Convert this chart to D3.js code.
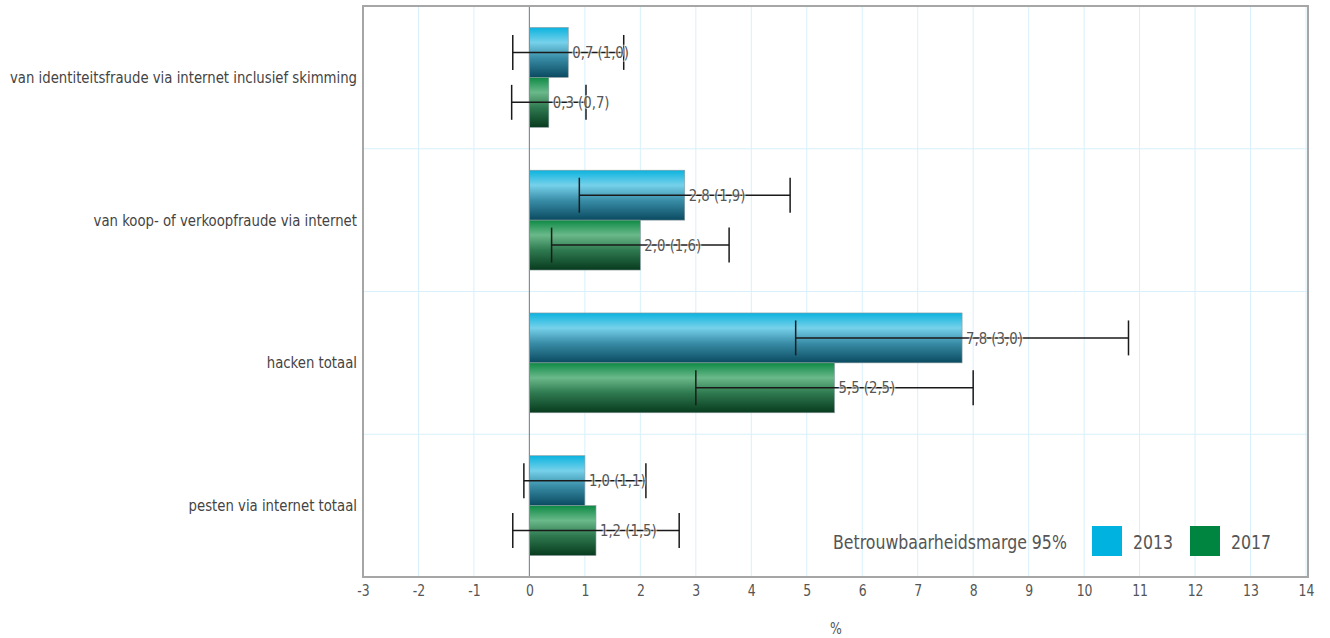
<!DOCTYPE html>
<html><head><meta charset="utf-8">
<script src="https://cdn.jsdelivr.net/npm/d3@7"></script>
<style>
body{margin:0;background:#fff;}
text{font-family:"DejaVu Sans Condensed","Liberation Sans Narrow","Open Sans",sans-serif;}
</style></head>
<body><svg id="c" width="1330" height="638"></svg>
<script>
const categories = ["van identiteitsfraude via internet inclusief skimming","van koop- of verkoopfraude via internet","hacken totaal","pesten via internet totaal"];
const series = ["2013","2017"];
const values2013 = [0.7, 2.8, 7.8, 1.0];
const values2017 = [0.35, 2.0, 5.5, 1.2];
const margins2013 = [1.0, 1.9, 3.0, 1.1];
const margins2017 = [0.67, 1.6, 2.5, 1.5];
const xTicks = d3.range(-3, 15, 1);
const legendTitle = "Betrouwbaarheidsmarge 95%";
const axisTitle = "%";

const svg = d3.select("#c");
const L = 363, R = 1306, T = 6, B = 577;
const x = d3.scaleLinear().domain([-3, 14]).range([L, R]);
const y = d3.scaleBand().domain(categories).range([T, B]).paddingInner(0).paddingOuter(0);
const yi = d3.scaleBand().domain(series).range([0, y.bandwidth()]).paddingInner(0).paddingOuter(0.43);

const defs = svg.append("defs");
function grad(id, stops){
  const g = defs.append("linearGradient").attr("id", id).attr("x1",0).attr("y1",0).attr("x2",0).attr("y2",1);
  stops.forEach(s => g.append("stop").attr("offset", s[0]).attr("stop-color", s[1]));
}
grad("g2013", [[0,"#0bb3df"],[0.3,"#76d1ea"],[0.6,"#3a8ea8"],[1,"#0a4a60"]]);
grad("g2017", [[0,"#0e8a45"],[0.3,"#6ab98a"],[0.6,"#2f7a50"],[1,"#073b1e"]]);

svg.append("g").selectAll("line").data(xTicks).join("line")
  .attr("x1", d=>x(d)).attr("x2", d=>x(d)).attr("y1", T).attr("y2", B)
  .attr("stroke", "#d8f0fa").attr("stroke-width", 1);
svg.append("g").selectAll("line").data(categories.slice(1)).join("line")
  .attr("x1", L).attr("x2", R+2).attr("y1", d=>y(d)).attr("y2", d=>y(d))
  .attr("stroke", "#d8f0fa").attr("stroke-width", 1);

const data = [];
categories.forEach((c,i)=>{
  data.push({c, s:"2013", v:values2013[i], m:margins2013[i]});
  data.push({c, s:"2017", v:values2017[i], m:margins2017[i]});
});

svg.append("g").selectAll("rect").data(data).join("rect")
  .attr("x", d=>x(Math.min(0,d.v))).attr("width", d=>Math.abs(x(d.v)-x(0)))
  .attr("y", d=>y(d.c)+yi(d.s)).attr("height", yi.bandwidth())
  .attr("fill", d=>"url(#g"+d.s+")").attr("stroke", "#8a9a9f").attr("stroke-width", 0.6);

svg.append("line").attr("x1", x(0)).attr("x2", x(0)).attr("y1", T).attr("y2", B)
  .attr("stroke", "#8c8c8c").attr("stroke-width", 1.2);

const eb = svg.append("g").attr("stroke", "#1a1a1a").attr("stroke-width", 1.5);
data.forEach(d=>{
  const cy = y(d.c)+yi(d.s)+yi.bandwidth()/2;
  const h = yi.bandwidth()*0.35;
  const x1 = x(d.v-d.m), x2 = x(d.v+d.m);
  eb.append("line").attr("x1", x1).attr("x2", x2).attr("y1", cy).attr("y2", cy);
  eb.append("line").attr("x1", x1).attr("x2", x1).attr("y1", cy-h).attr("y2", cy+h);
  eb.append("line").attr("x1", x2).attr("x2", x2).attr("y1", cy-h).attr("y2", cy+h);
});

const fmt = v => d3.format(".1f")(v).replace(".", ",");
svg.append("g").selectAll("text").data(data).join("text")
  .attr("x", d=>x(d.v)+4).attr("y", d=>y(d.c)+yi(d.s)+yi.bandwidth()/2)
  .attr("dy", "0.35em").attr("font-size", 16).attr("fill", "#555")
  .attr("stroke", "rgba(255,255,255,0.6)").attr("stroke-width", 2.5).attr("paint-order", "stroke")
  .text(d=>fmt(d.v)+" ("+fmt(d.m)+")");

svg.append("rect").attr("x", L).attr("y", T).attr("width", R+2-L).attr("height", B-T)
  .attr("fill", "none").attr("stroke", "#a6a6a6").attr("stroke-width", 2);

const catText = svg.append("g").selectAll("text").data(categories).join("text")
  .attr("x", 357).attr("y", d=>y(d)+y.bandwidth()/2).attr("dy", "0.35em")
  .attr("text-anchor", "end").attr("font-size", 16).attr("fill", "#444").text(d=>d);

const xa = svg.append("g").attr("transform", `translate(0,${B})`)
  .call(d3.axisBottom(x).tickValues(xTicks).tickSize(0).tickPadding(8).tickFormat(d=>String(d)));
xa.select(".domain").remove();
xa.selectAll("text").attr("font-size", 15).attr("fill", "#555").attr("font-family", null);

svg.append("text").attr("x", 836).attr("y", 634).attr("text-anchor", "middle")
  .attr("font-size", 15).attr("fill", "#555").text(axisTitle);

const lg = svg.append("g");
lg.append("text").attr("x", 833).attr("y", 542).attr("dy", "0.35em").attr("font-size", 19).attr("fill", "#555").text(legendTitle);
const colors = {"2013":"#00b2df", "2017":"#008541"};
const lx = {"2013":1092, "2017":1190};
series.forEach(s=>{
  lg.append("rect").attr("x", lx[s]).attr("y", 526).attr("width", 30).attr("height", 30).attr("fill", colors[s]);
  lg.append("text").attr("x", lx[s]+41).attr("y", 542).attr("dy","0.35em").attr("font-size", 19).attr("fill", "#555").text(s);
});

// condense all text to mimic the narrow typeface of the original
const longest = catText.nodes()[0].getComputedTextLength();
const k = 347 / longest;
svg.selectAll("text").each(function(){
  const w = this.getComputedTextLength();
  if (w > 0) { this.setAttribute("textLength", w*k); this.setAttribute("lengthAdjust", "spacingAndGlyphs"); }
});
</script></body></html>
